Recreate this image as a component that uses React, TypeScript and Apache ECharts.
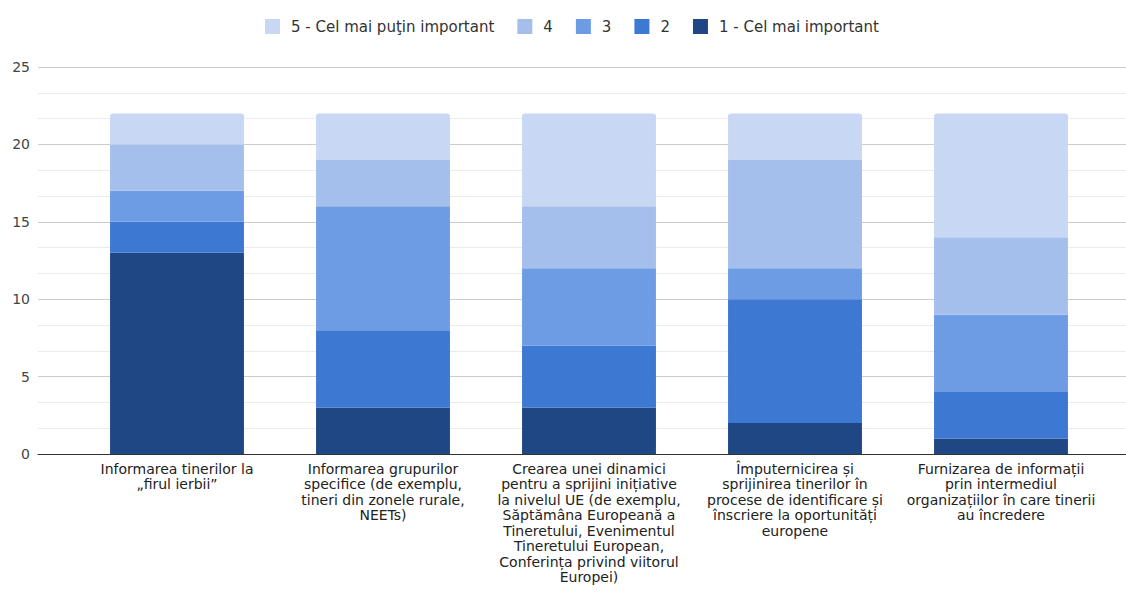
import React, { useEffect, useRef } from "react";
import * as echarts from "echarts";

const categories = [
  "Informarea tinerilor la\n„firul ierbii”",
  "Informarea grupurilor\nspecifice (de exemplu,\ntineri din zonele rurale,\nNEETs)",
  "Crearea unei dinamici\npentru a sprijini inițiative\nla nivelul UE (de exemplu,\nSăptămâna Europeană a\nTineretului, Evenimentul\nTineretului European,\nConferința privind viitorul\nEuropei)",
  "Împuternicirea și\nsprijinirea tinerilor în\nprocese de identificare și\nînscriere la oportunități\neuropene",
  "Furnizarea de informații\nprin intermediul\norganizațiilor în care tinerii\nau încredere",
];

const seriesNames = ["1 - Cel mai important", "2", "3", "4", "5 - Cel mai puţin important"];
const rank1 = [13, 3, 3, 2, 1];
const rank2 = [2, 5, 4, 8, 3];
const rank3 = [2, 8, 5, 2, 5];
const rank4 = [3, 3, 4, 7, 5];
const rank5 = [2, 3, 6, 3, 8];
const seriesValues = [rank1, rank2, rank3, rank4, rank5];
const colors = ["#1f4783", "#3d78d2", "#6e9ce4", "#a5bfed", "#c8d8f4"];
const legendOrder = [seriesNames[4], seriesNames[3], seriesNames[2], seriesNames[1], seriesNames[0]];

const FONT = "DejaVu Sans, Verdana, sans-serif";

export default function App() {
  const ref = useRef<HTMLDivElement>(null);
  useEffect(() => {
    if (!ref.current) return;
    const chart = echarts.init(ref.current, null, { renderer: "svg" });
    chart.setOption({
      animation: false,
      backgroundColor: "#ffffff",
      textStyle: { fontFamily: FONT },
      legend: {
        data: legendOrder,
        top: 14,
        left: 260,
        icon: "rect",
        itemWidth: 15,
        itemHeight: 15,
        itemGap: 23,
        textStyle: { fontSize: 15, color: "#333", fontFamily: FONT, padding: [0, 0, 0, 6] },
      },
      grid: [
        { left: 38, right: 0, top: 67, bottom: 140 },
        { left: 74, right: 22, top: 67, bottom: 140 },
      ],
      xAxis: [
        {
          gridIndex: 0,
          type: "value",
          min: 0,
          max: 1,
          axisLine: { show: true, lineStyle: { color: "#333", width: 1 } },
          axisTick: { show: false },
          axisLabel: { show: false },
          splitLine: { show: false },
        },
        {
          gridIndex: 1,
          type: "category",
          data: categories,
          axisLine: { show: false },
          axisTick: { show: false },
          axisLabel: {
            interval: 0,
            fontSize: 14,
            lineHeight: 15.5,
            color: "#222",
            margin: 7,
            fontFamily: FONT,
          },
        },
      ],
      yAxis: [
        {
          gridIndex: 0,
          type: "value",
          min: 0,
          max: 25,
          interval: 5,
          axisLine: { show: false },
          axisTick: { show: false },
          axisLabel: { fontSize: 14, color: "#444", margin: 8, fontFamily: FONT },
          splitLine: { show: true, lineStyle: { color: "#cccccc", width: 1 } },
          minorTick: { show: false, splitNumber: 3 },
          minorSplitLine: { show: true, lineStyle: { color: "#ebebeb", width: 1 } },
        },
        {
          gridIndex: 1,
          type: "value",
          min: 0,
          max: 25,
          interval: 5,
          show: false,
          splitLine: { show: false },
        },
      ],
      series: seriesValues.map((vals, i) => ({
        name: seriesNames[i],
        type: "bar",
        stack: "total",
        xAxisIndex: 1,
        yAxisIndex: 1,
        barWidth: "65%",
        data: vals,
        itemStyle: {
          color: colors[i],
          borderRadius: i === 4 ? [3, 3, 0, 0] : 0,
        },
        emphasis: { disabled: true },
      })),
    });
    return () => chart.dispose();
  }, []);
  return (
    <div
      ref={ref}
      style={{ position: "fixed", left: 0, top: 0, width: 1126, height: 594 }}
    />
  );
}
